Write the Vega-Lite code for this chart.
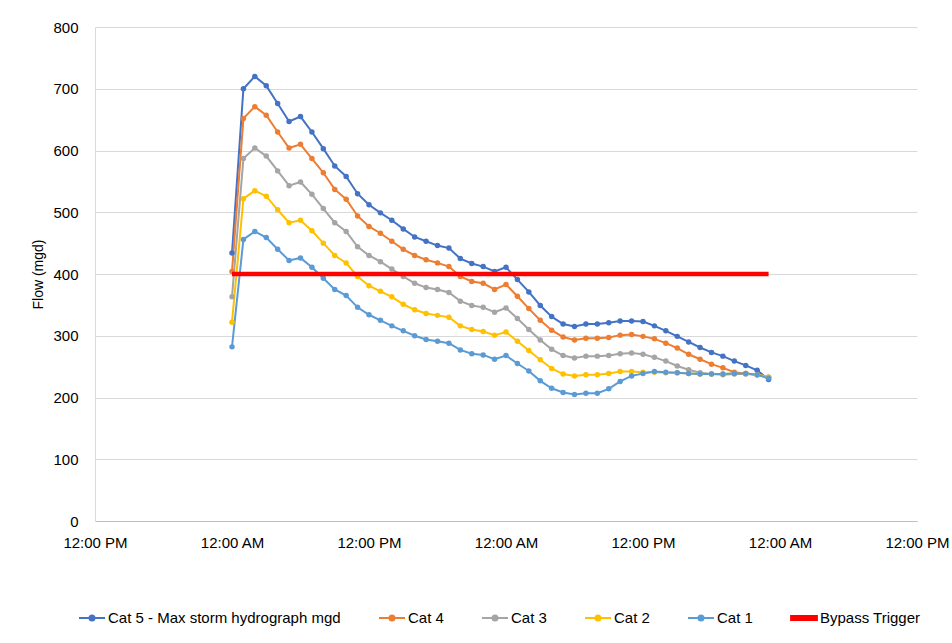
{
  "$schema": "https://vega.github.io/schema/vega-lite/v6.json",
  "autosize": "none",
  "width": 822,
  "height": 494,
  "padding": {"left": 95, "top": 27, "right": 35, "bottom": 122},
  "background": "white",
  "config": {
    "font": "Liberation Sans",
    "view": {"stroke": null},
    "axis": {"labelFont": "Liberation Sans", "titleFont": "Liberation Sans", "labelColor": "#000000", "titleColor": "#000000"},
    "legend": {"labelFont": "Liberation Sans", "labelColor": "#000000"}
  },
  "data": {
    "values": [
      {"t": "2021-06-02T00:00", "c5": 434, "c4": 404, "c3": 363, "c2": 322, "c1": 282, "b": 400},
      {"t": "2021-06-02T01:00", "c5": 700, "c4": 652, "c3": 587, "c2": 522, "c1": 456, "b": 400},
      {"t": "2021-06-02T02:00", "c5": 720, "c4": 671, "c3": 604, "c2": 535, "c1": 469, "b": 400},
      {"t": "2021-06-02T03:00", "c5": 705, "c4": 657, "c3": 591, "c2": 526, "c1": 459, "b": 400},
      {"t": "2021-06-02T04:00", "c5": 676, "c4": 630, "c3": 567, "c2": 504, "c1": 440, "b": 400},
      {"t": "2021-06-02T05:00", "c5": 647, "c4": 604, "c3": 543, "c2": 483, "c1": 422, "b": 400},
      {"t": "2021-06-02T06:00", "c5": 655, "c4": 610, "c3": 549, "c2": 487, "c1": 426, "b": 400},
      {"t": "2021-06-02T07:00", "c5": 630, "c4": 587, "c3": 529, "c2": 470, "c1": 411, "b": 400},
      {"t": "2021-06-02T08:00", "c5": 603, "c4": 564, "c3": 506, "c2": 450, "c1": 393, "b": 400},
      {"t": "2021-06-02T09:00", "c5": 575, "c4": 537, "c3": 483, "c2": 430, "c1": 375, "b": 400},
      {"t": "2021-06-02T10:00", "c5": 558, "c4": 521, "c3": 469, "c2": 418, "c1": 365, "b": 400},
      {"t": "2021-06-02T11:00", "c5": 530, "c4": 494, "c3": 444, "c2": 396, "c1": 346, "b": 400},
      {"t": "2021-06-02T12:00", "c5": 512, "c4": 477, "c3": 430, "c2": 381, "c1": 334, "b": 400},
      {"t": "2021-06-02T13:00", "c5": 499, "c4": 466, "c3": 420, "c2": 372, "c1": 325, "b": 400},
      {"t": "2021-06-02T14:00", "c5": 487, "c4": 453, "c3": 408, "c2": 363, "c1": 316, "b": 400},
      {"t": "2021-06-02T15:00", "c5": 473, "c4": 440, "c3": 396, "c2": 351, "c1": 308, "b": 400},
      {"t": "2021-06-02T16:00", "c5": 460, "c4": 430, "c3": 385, "c2": 342, "c1": 300, "b": 400},
      {"t": "2021-06-02T17:00", "c5": 453, "c4": 423, "c3": 378, "c2": 336, "c1": 294, "b": 400},
      {"t": "2021-06-02T18:00", "c5": 446, "c4": 418, "c3": 375, "c2": 333, "c1": 291, "b": 400},
      {"t": "2021-06-02T19:00", "c5": 442, "c4": 412, "c3": 370, "c2": 330, "c1": 288, "b": 400},
      {"t": "2021-06-02T20:00", "c5": 425, "c4": 396, "c3": 356, "c2": 316, "c1": 277, "b": 400},
      {"t": "2021-06-02T21:00", "c5": 417, "c4": 388, "c3": 349, "c2": 310, "c1": 271, "b": 400},
      {"t": "2021-06-02T22:00", "c5": 412, "c4": 385, "c3": 346, "c2": 307, "c1": 269, "b": 400},
      {"t": "2021-06-02T23:00", "c5": 404, "c4": 375, "c3": 338, "c2": 301, "c1": 262, "b": 400},
      {"t": "2021-06-03T00:00", "c5": 411, "c4": 383, "c3": 345, "c2": 306, "c1": 268, "b": 400},
      {"t": "2021-06-03T01:00", "c5": 391, "c4": 364, "c3": 328, "c2": 291, "c1": 255, "b": 400},
      {"t": "2021-06-03T02:00", "c5": 371, "c4": 344, "c3": 310, "c2": 276, "c1": 243, "b": 400},
      {"t": "2021-06-03T03:00", "c5": 349, "c4": 325, "c3": 293, "c2": 261, "c1": 227, "b": 400},
      {"t": "2021-06-03T04:00", "c5": 331, "c4": 309, "c3": 278, "c2": 247, "c1": 215, "b": 400},
      {"t": "2021-06-03T05:00", "c5": 319, "c4": 298, "c3": 268, "c2": 238, "c1": 208, "b": 400},
      {"t": "2021-06-03T06:00", "c5": 315, "c4": 293, "c3": 264, "c2": 235, "c1": 205, "b": 400},
      {"t": "2021-06-03T07:00", "c5": 319, "c4": 296, "c3": 267, "c2": 237, "c1": 207, "b": 400},
      {"t": "2021-06-03T08:00", "c5": 319, "c4": 296, "c3": 267, "c2": 237, "c1": 207, "b": 400},
      {"t": "2021-06-03T09:00", "c5": 321, "c4": 297, "c3": 268, "c2": 239, "c1": 214, "b": 400},
      {"t": "2021-06-03T10:00", "c5": 324, "c4": 301, "c3": 271, "c2": 242, "c1": 226, "b": 400},
      {"t": "2021-06-03T11:00", "c5": 324, "c4": 302, "c3": 272, "c2": 242, "c1": 235, "b": 400},
      {"t": "2021-06-03T12:00", "c5": 323, "c4": 299, "c3": 270, "c2": 241, "c1": 239, "b": 400},
      {"t": "2021-06-03T13:00", "c5": 316, "c4": 295, "c3": 265, "c2": 241, "c1": 242, "b": 400},
      {"t": "2021-06-03T14:00", "c5": 308, "c4": 288, "c3": 259, "c2": 240, "c1": 241, "b": 400},
      {"t": "2021-06-03T15:00", "c5": 299, "c4": 280, "c3": 251, "c2": 240, "c1": 240, "b": 400},
      {"t": "2021-06-03T16:00", "c5": 290, "c4": 270, "c3": 245, "c2": 239, "c1": 239, "b": 400},
      {"t": "2021-06-03T17:00", "c5": 281, "c4": 262, "c3": 240, "c2": 238, "c1": 238, "b": 400},
      {"t": "2021-06-03T18:00", "c5": 273, "c4": 254, "c3": 238, "c2": 238, "c1": 238, "b": 400},
      {"t": "2021-06-03T19:00", "c5": 267, "c4": 248, "c3": 237, "c2": 238, "c1": 238, "b": 400},
      {"t": "2021-06-03T20:00", "c5": 259, "c4": 241, "c3": 238, "c2": 239, "c1": 239, "b": 400},
      {"t": "2021-06-03T21:00", "c5": 252, "c4": 239, "c3": 238, "c2": 239, "c1": 239, "b": 400},
      {"t": "2021-06-03T22:00", "c5": 244, "c4": 237, "c3": 237, "c2": 237, "c1": 237, "b": 400},
      {"t": "2021-06-03T23:00", "c5": 229, "c4": 233, "c3": 233, "c2": 233, "c1": 231, "b": 400}
    ]
  },
  "transform": [
    {"fold": ["c5", "c4", "c3", "c2", "c1", "b"], "as": ["key", "flow"]},
    {"lookup": "key", "from": {"data": {"values": [
      {"key": "c5", "series": "Cat 5 - Max storm hydrograph mgd"},
      {"key": "c4", "series": "Cat 4"},
      {"key": "c3", "series": "Cat 3"},
      {"key": "c2", "series": "Cat 2"},
      {"key": "c1", "series": "Cat 1"},
      {"key": "b", "series": "Bypass Trigger"}
    ]}, "key": "key", "fields": ["series"]}}
  ],
  "encoding": {
    "x": {
      "field": "t",
      "type": "temporal",
      "title": null,
      "scale": {"domain": [
        {"year": 2021, "month": 6, "date": 1, "hours": 12},
        {"year": 2021, "month": 6, "date": 4, "hours": 12}
      ]},
      "axis": {
        "values": [
          {"year": 2021, "month": 6, "date": 1, "hours": 12},
          {"year": 2021, "month": 6, "date": 2, "hours": 0},
          {"year": 2021, "month": 6, "date": 2, "hours": 12},
          {"year": 2021, "month": 6, "date": 3, "hours": 0},
          {"year": 2021, "month": 6, "date": 3, "hours": 12},
          {"year": 2021, "month": 6, "date": 4, "hours": 0},
          {"year": 2021, "month": 6, "date": 4, "hours": 12}
        ],
        "format": "%-I:%M %p",
        "grid": false,
        "ticks": false,
        "domainColor": "#bfbfbf",
        "domainWidth": 1,
        "labelFontSize": 15,
        "labelPadding": 14,
        "labelFlush": false,
        "labelOverlap": false
      }
    },
    "y": {
      "field": "flow",
      "type": "quantitative",
      "title": "Flow (mgd)",
      "scale": {"domain": [0, 800], "nice": false},
      "axis": {
        "values": [0, 100, 200, 300, 400, 500, 600, 700, 800],
        "grid": true,
        "gridColor": "#d9d9d9",
        "gridWidth": 1,
        "ticks": false,
        "domainColor": "#d9d9d9",
        "labelFontSize": 15,
        "labelPadding": 17,
        "titleFontSize": 14,
        "titleFontWeight": "normal",
        "titlePadding": 7
      }
    },
    "color": {
      "field": "series",
      "type": "nominal",
      "scale": {
        "domain": ["Cat 5 - Max storm hydrograph mgd", "Cat 4", "Cat 3", "Cat 2", "Cat 1", "Bypass Trigger"],
        "range": ["#4472C4", "#ED7D31", "#A5A5A5", "#FFC000", "#5B9BD5", "#FF0000"]
      },
      "legend": {
        "orient": "none",
        "legendX": -17,
        "legendY": 577,
        "direction": "horizontal",
        "title": null,
        "padding": 0,
        "symbolSize": 676,
        "symbolStrokeWidth": 2,
        "labelFontSize": 15,
        "labelLimit": 0,
        "labelOffset": 2,
        "columnPadding": 34,
        "encode": {
          "symbols": {
            "update": {
              "shape": {"signal": "datum.value === 'Bypass Trigger' ? 'M-1,-0.17H1V0.17H-1Z' : 'M-1,0H1M-0.2,0A0.2,0.2 0 1,0 0.2,0A0.2,0.2 0 1,0 -0.2,0Z'"},
              "fill": {"scale": "color", "field": "value"},
              "stroke": {"scale": "color", "field": "value"},
              "strokeWidth": {"value": 1.8},
              "opacity": {"value": 1}
            }
          }
        }
      }
    }
  },
  "layer": [
    {
      "transform": [{"filter": "datum.key !== 'b'"}],
      "mark": {"type": "line", "strokeWidth": 2}
    },
    {
      "transform": [{"filter": "datum.key !== 'b'"}],
      "mark": {"type": "point", "filled": true, "size": 30, "opacity": 1}
    },
    {
      "transform": [{"filter": "datum.key === 'b'"}],
      "mark": {"type": "line", "strokeWidth": 4.5}
    }
  ]
}
